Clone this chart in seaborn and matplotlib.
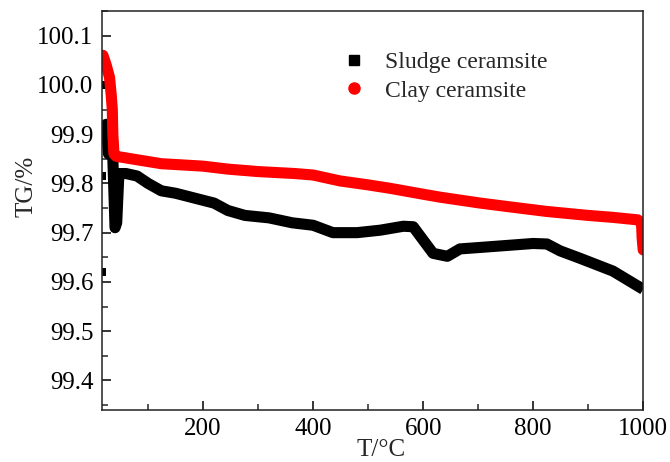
import matplotlib
matplotlib.use("Agg")
import matplotlib.pyplot as plt
import seaborn as sns
import pandas as pd
from matplotlib.lines import Line2D
from matplotlib.ticker import MultipleLocator, FormatStrFormatter

# ---- data ----
sludge_T = [20, 24, 28, 33, 36, 40, 43, 47, 60, 80, 100, 124, 150, 185, 220, 245,
            276, 320, 362, 400, 436, 480, 522, 564, 582, 600, 618, 644, 667, 704,
            764, 800, 825, 849, 885, 945, 1000]
sludge_TG = [99.90, 99.92, 99.86, 99.91, 99.85, 99.71, 99.72, 99.82, 99.82, 99.815,
             99.80, 99.785, 99.78, 99.77, 99.76, 99.745, 99.735, 99.73, 99.72, 99.715,
             99.70, 99.70, 99.705, 99.713, 99.712, 99.685, 99.658, 99.652, 99.667, 99.67,
             99.675, 99.678, 99.677, 99.663, 99.648, 99.622, 99.585]
sludge_out_T = [17, 17, 17]
sludge_out_TG = [100.0, 99.815, 99.62]

clay_T = [18, 24, 30, 33, 35, 36, 37, 38, 42, 80, 124, 200, 245, 300, 367, 400,
          449, 500, 540, 600, 631, 704, 760, 825, 900, 945, 990, 997, 998, 1000]
clay_TG = [100.06, 100.04, 100.015, 99.98, 99.95, 99.90, 99.88, 99.86, 99.855, 99.848,
           99.84, 99.835, 99.829, 99.824, 99.82, 99.817, 99.805, 99.797, 99.79, 99.778,
           99.772, 99.76, 99.752, 99.743, 99.735, 99.731, 99.726, 99.72, 99.69, 99.665]

labels = ["Sludge ceramsite", "Clay ceramsite"]
x_label = "T/°C"
y_label = "TG/%"

sns.set_theme(style="ticks")
plt.rcParams["font.family"] = ["Liberation Serif", "DejaVu Serif"]

fig = plt.figure(figsize=(6.7, 4.62), dpi=100)
ax = fig.add_axes([0.152, 0.1126, 0.808, 0.8636])

df_s = pd.DataFrame({"T": sludge_T, "TG": sludge_TG})
df_c = pd.DataFrame({"T": clay_T, "TG": clay_TG})
df_o = pd.DataFrame({"T": sludge_out_T, "TG": sludge_out_TG})

sns.lineplot(data=df_s, x="T", y="TG", ax=ax, color="black", linewidth=8,
             estimator=None, sort=False, solid_joinstyle="round",
             solid_capstyle="butt", legend=False)
sns.scatterplot(data=df_o, x="T", y="TG", ax=ax, color="black", marker="s",
                s=40, edgecolor="black", linewidth=0, legend=False)
sns.lineplot(data=df_c, x="T", y="TG", ax=ax, color="#ff0000", linewidth=8,
             estimator=None, sort=False, solid_joinstyle="round",
             solid_capstyle="round", legend=False)

ax.set_xlim(16, 1000)
ax.set_ylim(99.34, 100.15)
ax.xaxis.set_major_locator(MultipleLocator(200))
ax.xaxis.set_minor_locator(MultipleLocator(100))
ax.yaxis.set_major_locator(MultipleLocator(0.1))
ax.yaxis.set_minor_locator(MultipleLocator(0.05))
ax.yaxis.set_major_formatter(FormatStrFormatter("%.1f"))

ax.tick_params(axis="both", which="major", direction="in", length=6.5, width=1.1,
               labelsize=18, colors="black", pad=6)
ax.tick_params(axis="both", which="minor", direction="in", length=4, width=1.1)
ax.tick_params(top=False, right=False, which="both")
for sp in ax.spines.values():
    sp.set_linewidth(1.1)
    sp.set_color("#222222")

ax.set_xlabel(x_label, fontsize=18)
ax.set_ylabel(y_label, fontsize=18)
ax.xaxis.set_label_coords(0.516, -0.072)
ax.yaxis.set_label_coords(-0.118, 0.561)

handles = [Line2D([], [], linestyle="none", marker="s", color="black", markersize=7),
           Line2D([], [], linestyle="none", marker="o", color="#ff0000", markersize=8)]
ax.legend(handles, labels, loc="upper left", bbox_to_anchor=(0.405, 0.952),
          frameon=False, fontsize=17, handletextpad=0.8, labelspacing=0.3,
          handlelength=1.0)

fig.savefig("out.png", dpi=100)
